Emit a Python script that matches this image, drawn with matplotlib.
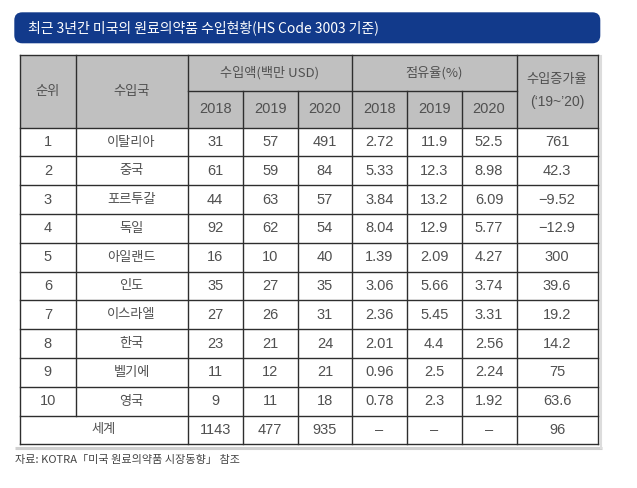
import matplotlib
matplotlib.use("Agg")
import matplotlib.pyplot as plt
from matplotlib.patches import Rectangle, FancyBboxPatch

plt.rcParams['font.family'] = ['Noto Sans CJK KR', 'DejaVu Sans']
num_font = ['Liberation Sans', 'Noto Sans CJK KR']

# table data
title = "최근 3년간 미국의 원료의약품 수입현황(HS Code 3003 기준)"
source = "자료: KOTRA「미국 원료의약품 시장동향」 참조"
ranks = ["1", "2", "3", "4", "5", "6", "7", "8", "9", "10"]
countries = ["이탈리아", "중국", "포르투갈", "독일", "아일랜드", "인도",
             "이스라엘", "한국", "벨기에", "영국"]
years = ["2018", "2019", "2020"]
imports_2018 = ["31", "61", "44", "92", "16", "35", "27", "23", "11", "9"]
imports_2019 = ["57", "59", "63", "62", "10", "27", "26", "21", "12", "11"]
imports_2020 = ["491", "84", "57", "54", "40", "35", "31", "24", "21", "18"]
share_2018 = ["2.72", "5.33", "3.84", "8.04", "1.39", "3.06", "2.36", "2.01", "0.96", "0.78"]
share_2019 = ["11.9", "12.3", "13.2", "12.9", "2.09", "5.66", "5.45", "4.4", "2.5", "2.3"]
share_2020 = ["52.5", "8.98", "6.09", "5.77", "4.27", "3.74", "3.31", "2.56", "2.24", "1.92"]
growth = ["761", "42.3", "\u22129.52", "\u221212.9", "300", "39.6", "19.2", "14.2", "75", "63.6"]
world_label = "세계"
world_row = ["1143", "477", "935", "\u2013", "\u2013", "\u2013", "96"]

# layout in pixels
col_x = [20, 75.7, 187.6, 242.6, 297.6, 352.3, 406.8, 461.6, 516.5, 597.7]
head_top = 55
head_mid = 90.7
head_bot = 127.7
table_bot = 444.3
n_rows = len(ranks) + 1
row_h = (table_bot - head_bot) / n_rows

line_c = "#2e2e2e"
text_c = "#505050"
head_fill = "#c0c0c0"
lw = 1.0

fig = plt.figure(figsize=(6.37, 4.88), dpi=100)
ax = fig.add_axes([0, 0, 1, 1])
ax.set_xlim(0, 637)
ax.set_ylim(488, 0)
ax.axis("off")

# title bar
bar = FancyBboxPatch((14.3, 12.3), 586, 31, boxstyle="round,pad=0,rounding_size=8",
                     fc="#123a8b", ec="none")
ax.add_patch(bar)
ax.text(28, 28, title, color="white", fontsize=10, va="center", ha="left")

# shadow
ax.plot([15, 602], [448, 448], color="#d0d0d0", lw=2.2, solid_capstyle="butt")
ax.plot([600.5, 600.5], [56, 448], color="#dcdcdc", lw=1.5)

# header background
ax.add_patch(Rectangle((col_x[0], head_top), col_x[-1] - col_x[0], head_bot - head_top,
                       fc=head_fill, ec="none"))


def cx(i, j=None):
    j = i if j is None else j
    return (col_x[i] + col_x[j + 1]) / 2


kor = 9.5
num = 10.5


def put(x, y, s, size, fam=None):
    ax.text(x, y, s, ha="center", va="center", fontsize=size, color=text_c, family=fam)


put(cx(0), (head_top + head_bot) / 2, "순위", kor)
put(cx(1), (head_top + head_bot) / 2, "수입국", kor)
put(cx(2, 4), (head_top + head_mid) / 2, "수입액(백만 USD)", kor)
put(cx(5, 7), (head_top + head_mid) / 2, "점유율(%)", kor)
put(cx(8), 80, "수입증가율", kor)
put(cx(8), 102, "(\u201819~\u201920)", num - 0.5, num_font)
for k, yr in enumerate(years + years):
    put(cx(2 + k), (head_mid + head_bot) / 2, yr, num, num_font)

# body
columns = [imports_2018, imports_2019, imports_2020, share_2018, share_2019, share_2020, growth]
for r in range(len(ranks)):
    yc = head_bot + (r + 0.5) * row_h
    put(cx(0), yc, ranks[r], num, num_font)
    put(cx(1), yc, countries[r], kor)
    for k, col in enumerate(columns):
        put(cx(2 + k), yc, col[r], num, num_font)

yw = head_bot + (n_rows - 0.5) * row_h
put(cx(0, 1), yw, world_label, kor)
for k, v in enumerate(world_row):
    put(cx(2 + k), yw, v, num, num_font)

# grid lines
ax.plot([col_x[0], col_x[-1]], [head_top, head_top], color=line_c, lw=lw)
ax.plot([col_x[2], col_x[8]], [head_mid, head_mid], color=line_c, lw=lw)
for r in range(n_rows + 1):
    y = head_bot + r * row_h
    ax.plot([col_x[0], col_x[-1]], [y, y], color=line_c, lw=lw)
for i, x in enumerate(col_x):
    if i == 1:
        ax.plot([x, x], [head_top, table_bot - row_h], color=line_c, lw=lw)
    elif i in (3, 4, 6, 7):
        ax.plot([x, x], [head_mid, table_bot], color=line_c, lw=lw)
    else:
        ax.plot([x, x], [head_top, table_bot], color=line_c, lw=lw)

# source note
ax.text(15, 460, source, ha="left", va="center", fontsize=8, color="#444444")

fig.savefig("out.png", dpi=100)
